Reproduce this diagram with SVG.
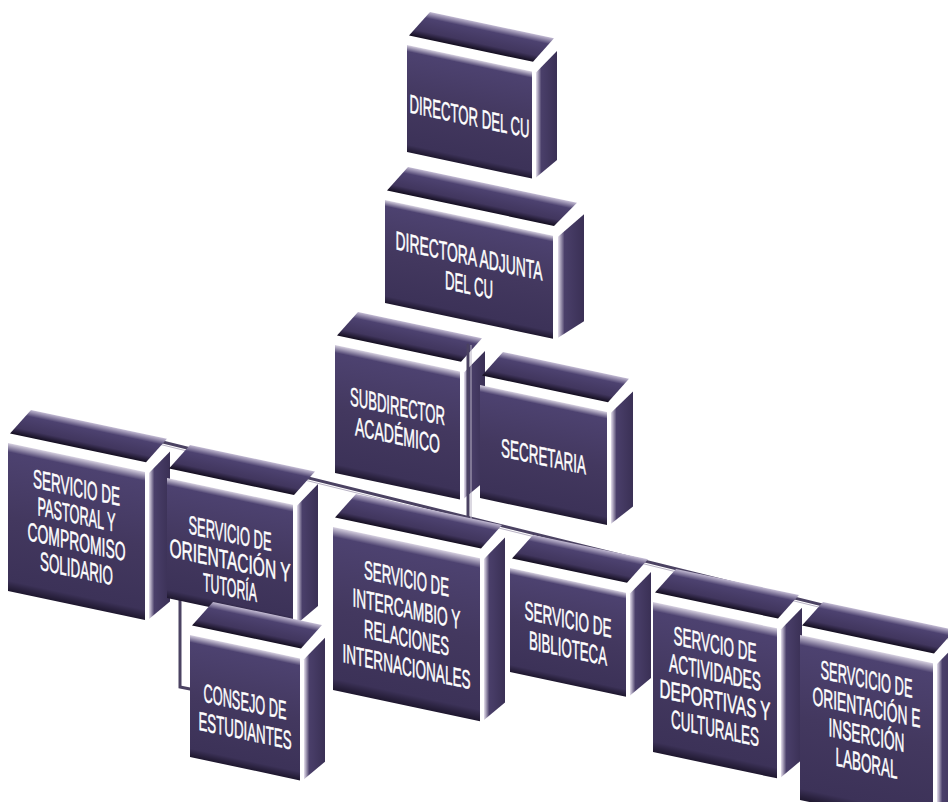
<svg xmlns="http://www.w3.org/2000/svg" width="948" height="802" viewBox="0 0 948 802">
<defs>
<linearGradient id="gFront" x1="0" y1="0" x2="0" y2="1">
<stop offset="0" stop-color="#d6d0e0"/>
<stop offset="0.06" stop-color="#4d4270"/>
<stop offset="0.5" stop-color="#43385f"/>
<stop offset="0.93" stop-color="#3c3258"/>
<stop offset="1" stop-color="#1e172e"/>
</linearGradient>
<linearGradient id="gTop" x1="0" y1="0" x2="0" y2="1">
<stop offset="0" stop-color="#c4bcd4"/>
<stop offset="0.25" stop-color="#4d4270"/>
<stop offset="0.75" stop-color="#41365e"/>
<stop offset="1" stop-color="#140e20"/>
</linearGradient>
<linearGradient id="gSide" x1="0" y1="0" x2="1" y2="0">
<stop offset="0" stop-color="#e4deec"/>
<stop offset="0.25" stop-color="#4a3f6a"/>
<stop offset="1" stop-color="#3a3055"/>
</linearGradient>
</defs>
<style>
.front{fill:url(#gFront)}
.top{fill:url(#gTop)}
.side{fill:url(#gSide)}
.lbl{font-family:"Liberation Sans",Arial,sans-serif;font-size:26px;fill:#ffffff;stroke:#ffffff;stroke-width:0.5;text-anchor:middle}
.conn{fill:none;stroke:#4b4262;stroke-width:3;stroke-linecap:round}
.conn2{fill:none;stroke:#b8b2c4;stroke-width:1}
</style>
<rect width="948" height="802" fill="#ffffff"/>

<g id="director" transform="translate(407,45) skewY(12)">
<polygon class="top" points="2,-10 126,-10 147,-38 23,-38"/>
<polygon class="side" points="129,0 150,-26 150,83 129,105"/>
<rect class="front" width="125" height="107"/>
<text class="lbl" x="62.5" y="67" textLength="120" lengthAdjust="spacingAndGlyphs">DIRECTOR DEL CU</text>
</g>

<g id="directora-adjunta" transform="translate(385,200) skewY(12)">
<polygon class="top" points="2,-10 169,-10 192,-38 23,-38"/>
<polygon class="side" points="173,0 199,-28 199,79 173,101"/>
<rect class="front" width="168" height="103"/>
<text class="lbl" x="84" y="47" textLength="147" lengthAdjust="spacingAndGlyphs">DIRECTORA ADJUNTA</text>
<text class="lbl" x="84" y="76" textLength="48" lengthAdjust="spacingAndGlyphs">DEL CU</text>
</g>

<g id="subdirector" transform="translate(335,345) skewY(12)">
<polygon class="top" points="2,-10 126,-10 147,-38 23,-38"/>
<polygon class="side" points="129,0 150,-26 150,104 129,126"/>
<rect class="front" width="125" height="128"/>
<text class="lbl" x="62.5" y="57" textLength="95" lengthAdjust="spacingAndGlyphs">SUBDIRECTOR</text>
<text class="lbl" x="62.5" y="86" textLength="85" lengthAdjust="spacingAndGlyphs">ACADÉMICO</text>
</g>

<g id="secretaria" transform="translate(480,385) skewY(12)">
<polygon class="top" points="2,-10 128,-10 149,-38 23,-38"/>
<polygon class="side" points="131,0 153,-26 153,89 131,111"/>
<rect class="front" width="127" height="113"/>
<text class="lbl" x="63.5" y="67" textLength="85" lengthAdjust="spacingAndGlyphs">SECRETARIA</text>
</g>

<g id="connectors">
<line class="conn" x1="110" y1="429" x2="948" y2="636"/>
<line class="conn2" x1="110" y1="432" x2="948" y2="639"/>
<line class="conn" x1="468" y1="345" x2="468" y2="520"/>
<line class="conn2" x1="471" y1="345" x2="471" y2="520"/>
<polyline class="conn" points="180,598 180,687 190,689"/>
</g>

<g id="pastoral" transform="translate(8,443) skewY(12)">
<polygon class="top" points="2,-10 138,-10 159,-38 23,-38"/>
<polygon class="side" points="141,0 162,-26 162,124 141,146"/>
<rect class="front" width="137" height="148"/>
<text class="lbl" x="68.5" y="39" textLength="87" lengthAdjust="spacingAndGlyphs">SERVICIO DE</text>
<text class="lbl" x="68.5" y="66" textLength="78" lengthAdjust="spacingAndGlyphs">PASTORAL Y</text>
<text class="lbl" x="68.5" y="93" textLength="98" lengthAdjust="spacingAndGlyphs">COMPROMISO</text>
<text class="lbl" x="68.5" y="120" textLength="73" lengthAdjust="spacingAndGlyphs">SOLIDARIO</text>
</g>

<g id="orientacion-tutoria" transform="translate(167,478) skewY(12)">
<polygon class="top" points="2,-10 127,-10 148,-38 23,-38"/>
<polygon class="side" points="130,0 151,-26 151,96 130,118"/>
<rect class="front" width="126" height="120"/>
<text class="lbl" x="63" y="51" textLength="83" lengthAdjust="spacingAndGlyphs">SERVICIO DE</text>
<text class="lbl" x="63" y="78" textLength="121" lengthAdjust="spacingAndGlyphs">ORIENTACIÓN Y</text>
<text class="lbl" x="63" y="105" textLength="54" lengthAdjust="spacingAndGlyphs">TUTORÍA</text>
</g>

<g id="consejo" transform="translate(190,635) skewY(12)">
<polygon class="top" points="2,-10 111,-10 132,-38 23,-38"/>
<polygon class="side" points="114,0 135,-26 135,98 114,120"/>
<rect class="front" width="110" height="122"/>
<text class="lbl" x="55" y="64" textLength="83" lengthAdjust="spacingAndGlyphs">CONSEJO DE</text>
<text class="lbl" x="55" y="93" textLength="93" lengthAdjust="spacingAndGlyphs">ESTUDIANTES</text>
</g>

<g id="intercambio" transform="translate(333,527) skewY(12)">
<polygon class="top" points="2,-10 148,-10 169,-38 23,-38"/>
<polygon class="side" points="151,0 172,-26 172,139 151,161"/>
<rect class="front" width="147" height="163"/>
<text class="lbl" x="73.5" y="45" textLength="85" lengthAdjust="spacingAndGlyphs">SERVICIO DE</text>
<text class="lbl" x="73.5" y="75" textLength="108" lengthAdjust="spacingAndGlyphs">INTERCAMBIO Y</text>
<text class="lbl" x="73.5" y="104" textLength="85" lengthAdjust="spacingAndGlyphs">RELACIONES</text>
<text class="lbl" x="73.5" y="133" textLength="128" lengthAdjust="spacingAndGlyphs">INTERNACIONALES</text>
</g>

<g id="biblioteca" transform="translate(510,568) skewY(12)">
<polygon class="top" points="2,-10 117,-10 138,-38 23,-38"/>
<polygon class="side" points="120,0 141,-26 141,80 120,102"/>
<rect class="front" width="116" height="104"/>
<text class="lbl" x="58" y="48" textLength="87" lengthAdjust="spacingAndGlyphs">SERVICIO DE</text>
<text class="lbl" x="58" y="77" textLength="78" lengthAdjust="spacingAndGlyphs">BIBLIOTECA</text>
</g>

<g id="actividades" transform="translate(653,602) skewY(12)">
<polygon class="top" points="2,-10 125,-10 146,-38 23,-38"/>
<polygon class="side" points="128,0 149,-26 149,126 128,148"/>
<rect class="front" width="124" height="150"/>
<text class="lbl" x="62" y="38" textLength="83" lengthAdjust="spacingAndGlyphs">SERVCIO DE</text>
<text class="lbl" x="62" y="66" textLength="92" lengthAdjust="spacingAndGlyphs">ACTIVIDADES</text>
<text class="lbl" x="62" y="94" textLength="111" lengthAdjust="spacingAndGlyphs">DEPORTIVAS Y</text>
<text class="lbl" x="62" y="122" textLength="88" lengthAdjust="spacingAndGlyphs">CULTURALES</text>
</g>

<g id="insercion-laboral" transform="translate(800,635) skewY(12)">
<polygon class="top" points="2,-10 134,-10 155,-38 23,-38"/>
<polygon class="side" points="137,0 158,-26 158,141 137,163"/>
<rect class="front" width="133" height="165"/>
<text class="lbl" x="66.5" y="39" textLength="92" lengthAdjust="spacingAndGlyphs">SERVCICIO DE</text>
<text class="lbl" x="66.5" y="67" textLength="108" lengthAdjust="spacingAndGlyphs">ORIENTACIÓN E</text>
<text class="lbl" x="66.5" y="95" textLength="76" lengthAdjust="spacingAndGlyphs">INSERCIÓN</text>
<text class="lbl" x="66.5" y="123" textLength="62" lengthAdjust="spacingAndGlyphs">LABORAL</text>
</g>
</svg>
